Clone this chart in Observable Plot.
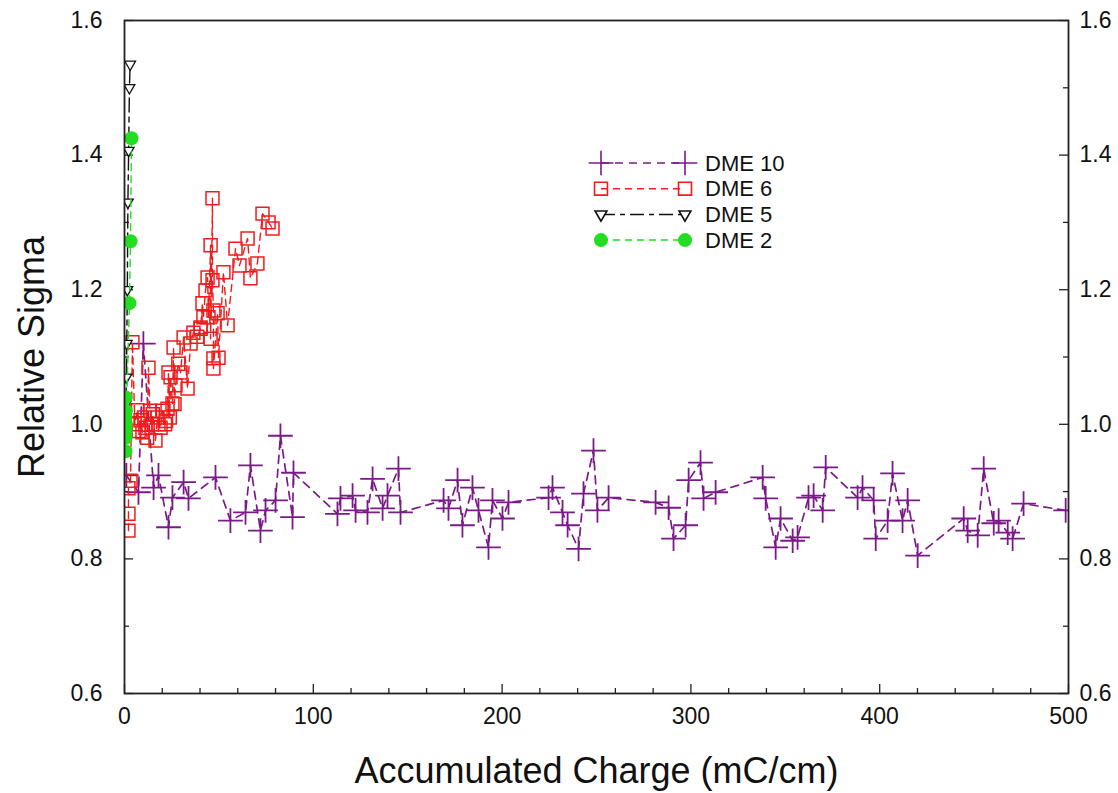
<!DOCTYPE html>
<html><head><meta charset="utf-8">
<script src="https://cdn.jsdelivr.net/npm/d3@7"></script>
<script src="https://cdn.jsdelivr.net/npm/@observablehq/plot@0.6"></script>
<style>
body{margin:0;background:#fff;}
#wrap{position:relative;width:1118px;height:793px;font-family:"Liberation Sans",Arial,sans-serif;}
#legend{position:absolute;left:585px;top:148px;}
</style></head><body><div id="wrap"></div>
<script>
// ---- data ----
const dme10X = [1, 7.4, 10, 15.4, 18, 23.3, 25.4, 31.3, 33.9, 48.2, 56.1, 64.1, 66.7, 72, 74.7, 80, 82.6, 89, 89.5, 112.8, 114.4, 120.8, 122.4, 128.7, 131.4, 136.7, 139.3, 145.1, 146.2, 169, 171.6, 176.4, 179, 184.3, 187.5, 192.8, 194.9, 200.2, 203.4, 224.6, 226.7, 232, 234.7, 240.5, 243.1, 248.4, 250.5, 256.4, 281.3, 288.2, 290.8, 297.2, 298.8, 305.1, 306.7, 313.1, 338, 339.6, 344.9, 347.5, 353.9, 356.5, 362.3, 365, 369.8, 371.4, 388.3, 390.9, 396.8, 397.9, 404.2, 406.8, 412.1, 414.8, 420.1, 444.5, 446.6, 451.9, 455.1, 460.4, 463, 467.8, 470.4, 476.2, 498.5];
const dme10Y = [0.924, 0.899, 1.12, 0.906, 0.924, 0.847, 0.891, 0.914, 0.890, 0.921, 0.857, 0.869, 0.939, 0.842, 0.872, 0.887, 0.983, 0.862, 0.928, 0.867, 0.890, 0.894, 0.872, 0.869, 0.919, 0.875, 0.894, 0.934, 0.869, 0.887, 0.875, 0.917, 0.850, 0.906, 0.872, 0.817, 0.887, 0.860, 0.884, 0.891, 0.906, 0.869, 0.850, 0.815, 0.897, 0.961, 0.872, 0.891, 0.884, 0.876, 0.830, 0.850, 0.917, 0.943, 0.890, 0.899, 0.921, 0.890, 0.817, 0.860, 0.827, 0.832, 0.891, 0.894, 0.872, 0.936, 0.891, 0.906, 0.887, 0.830, 0.857, 0.927, 0.857, 0.887, 0.805, 0.860, 0.842, 0.835, 0.934, 0.853, 0.857, 0.839, 0.830, 0.882, 0.872];

const dme6X = [2.1, 2.1, 2.1, 3.2, 4.2, 5.5, 6.9, 7.5, 8.5, 9.5, 10.5, 11.1, 12, 12.7, 13.5, 14.5, 15, 16.4, 17.5, 18, 19.1, 20, 21.5, 22, 22.8, 23.3, 24, 24.4, 25.4, 26, 26.5, 27, 28.5, 29.7, 31.3, 33.4, 35, 36.5, 38.5, 40.3, 40.3, 41.3, 41.8, 42.9, 44, 44.5, 45.6, 45.6, 46.6, 46.6, 47.1, 47.1, 47.1, 49.3, 49.8, 52.4, 54.6, 58.8, 60.9, 65.2, 66.7, 70.4, 73.1, 76.3, 78.4];
const dme6Y = [0.842, 0.867, 0.905, 0.916, 1.122, 1.000, 1.021, 0.990, 1.006, 0.988, 1.010, 0.995, 0.980, 1.084, 1.020, 1.000, 1.015, 0.976, 1.010, 1.000, 0.995, 1.020, 1.000, 1.005, 1.023, 1.077, 1.010, 1.070, 1.031, 1.114, 1.030, 1.058, 1.090, 1.077, 1.129, 1.053, 1.120, 1.136, 1.130, 1.142, 1.144, 1.180, 1.159, 1.199, 1.218, 1.159, 1.266, 1.127, 1.336, 1.214, 1.169, 1.098, 1.083, 1.165, 1.099, 1.226, 1.147, 1.261, 1.236, 1.276, 1.217, 1.239, 1.313, 1.300, 1.291];

const dme5X = [0.4, 0.7, 1.0, 1.2, 1.5, 1.8, 2.2, 2.6, 3.0];
const dme5Y = [0.99, 1.03, 1.07, 1.12, 1.20, 1.33, 1.407, 1.50, 1.535];

const dme2X = [0.5, 0.6, 0.7, 0.8, 0.6, 0.5, 0.7, 2.6, 3.2, 3.7];
const dme2Y = [0.96, 0.98, 1.00, 1.02, 1.04, 1.01, 0.99, 1.18, 1.272, 1.425];

const xTickVals = [0, 100, 200, 300, 400, 500];
const xMinorVals = [20, 40, 60, 80, 120, 140, 160, 180, 220, 240, 260, 280, 320, 340, 360, 380, 420, 440, 460, 480];
const yTickVals = [0.6, 0.8, 1.0, 1.2, 1.4, 1.6];
const yMinorVals = [0.7, 0.9, 1.1, 1.3, 1.5];

const seriesNames = ["DME 10", "DME 6", "DME 5", "DME 2"];
const seriesColors = ["#7a1a88", "#f01c1c", "#111111", "#22dd22"];

// ---- build tables ----
const toRows = (xs, ys) => xs.map((x, i) => ({x, y: ys[i]}));
const d10 = toRows(dme10X, dme10Y);
const d6 = toRows(dme6X, dme6Y);
const d5 = toRows(dme5X, dme5Y);
const d2 = toRows(dme2X, dme2Y);

const W = 1118, H = 793, mL = 124, mR = 50, mT = 20, mB = 100;
const pw = W - mL - mR, ph = H - mT - mB;
const fmtY = d => d.toFixed(1);

const chart = Plot.plot({
  width: W, height: H,
  marginLeft: mL, marginRight: mR, marginTop: mT, marginBottom: mB,
  style: {fontFamily: "'Liberation Sans', Arial, sans-serif", fontSize: "23px", background: "white", color: "#111"},
  x: {domain: [0, 500]},
  y: {domain: [0.6, 1.6]},
  marks: [
    Plot.axisX(xTickVals, {tickSize: 0, tickPadding: 14, tickFormat: d => String(d), label: null, fontSize: 23}),
    Plot.axisY(yTickVals, {anchor: "left", tickSize: 0, tickPadding: 22, tickFormat: fmtY, label: null, fontSize: 23}),
    Plot.axisY(yTickVals, {anchor: "right", tickSize: 0, tickPadding: 11, tickFormat: fmtY, label: null, fontSize: 23}),
    // inward ticks
    Plot.ruleX(xTickVals, {insetTop: ph - 9, stroke: "#222", strokeWidth: 1.3}),
    Plot.ruleX(xMinorVals, {insetTop: ph - 5, stroke: "#222", strokeWidth: 1.3}),
    Plot.ruleY(yTickVals, {insetRight: pw - 9, stroke: "#222", strokeWidth: 1.3}),
    Plot.ruleY(yMinorVals, {insetRight: pw - 5, stroke: "#222", strokeWidth: 1.3}),
    Plot.ruleY(yTickVals, {insetLeft: pw - 9, stroke: "#222", strokeWidth: 1.3}),
    Plot.ruleY(yMinorVals, {insetLeft: pw - 5, stroke: "#222", strokeWidth: 1.3}),
    // DME 10
    Plot.line(d10, {x: "x", y: "y", stroke: seriesColors[0], strokeWidth: 1.7, strokeDasharray: "8,6", clip: true}),
    Plot.dot(d10, {x: "x", y: "y", symbol: "plus", r: 8, stroke: seriesColors[0], strokeWidth: 1.8, clip: true}),
    // DME 6
    Plot.line(d6, {x: "x", y: "y", stroke: seriesColors[1], strokeWidth: 1.4, strokeDasharray: "7,5", clip: true}),
    Plot.dot(d6, {x: "x", y: "y", symbol: "square", r: 7.3, fill: "none", stroke: seriesColors[1], strokeWidth: 1.5, clip: true}),
    // DME 5
    Plot.line(d5, {x: "x", y: "y", stroke: seriesColors[2], strokeWidth: 1.4, strokeDasharray: "14,5,5,5", clip: true}),
    Plot.dot(d5, {x: "x", y: "y", symbol: "triangle", r: 4, rotate: 180, fill: "white", stroke: seriesColors[2], strokeWidth: 1.3, clip: true}),
    // DME 2
    Plot.line(d2, {x: "x", y: "y", stroke: seriesColors[3], strokeWidth: 1.4, strokeDasharray: "7,5", clip: true}),
    Plot.dot(d2, {x: "x", y: "y", r: 7, fill: seriesColors[3], stroke: "none", clip: true}),
    Plot.frame({stroke: "#222", strokeWidth: 1.8}),
    // axis titles
    Plot.text(["Accumulated Charge (mC/cm)"], {text: d => d, frameAnchor: "bottom", dy: 89, fontSize: 36, fill: "#111"}),
    Plot.text(["Relative Sigma"], {text: d => d, frameAnchor: "left", textAnchor: "middle", dx: -92, rotate: -90, fontSize: 36, fill: "#111"})
  ]
});
const wrap = document.getElementById("wrap");
wrap.appendChild(chart);

// ---- legend overlay ----
const legendSymbols = [d3.symbolPlus, d3.symbolSquare, d3.symbolTriangle, d3.symbolCircle];
const legendSizes = [Math.PI * 8 * 8, Math.PI * 7.3 * 7.3, Math.PI * 4.4 * 4.4, Math.PI * 7 * 7];
const legendDash = ["8,6", "7,5", "14,5,5,5", "7,5"];
const leg = d3.select(wrap).append("svg").attr("id", "legend").attr("width", 240).attr("height", 110)
  .style("font-family", "'Liberation Sans', Arial, sans-serif");
seriesNames.forEach((name, i) => {
  const cy = 15 + i * 25.7;
  const g = leg.append("g");
  const x0 = 16, x1 = 100;
  g.append("line").attr("x1", x0).attr("x2", x1).attr("y1", cy).attr("y2", cy)
    .attr("stroke", seriesColors[i]).attr("stroke-width", 1.5).attr("stroke-dasharray", legendDash[i]);
  [x0, x1].forEach(sx => {
    const p = g.append("path").attr("d", d3.symbol(legendSymbols[i], legendSizes[i])())
      .attr("transform", `translate(${sx},${cy})` + (i === 2 ? " rotate(180)" : ""));
    if (i === 3) p.attr("fill", seriesColors[i]);
    else p.attr("fill", i === 2 ? "white" : "none").attr("stroke", seriesColors[i]).attr("stroke-width", 1.6);
  });
  g.append("text").attr("x", 120).attr("y", cy).attr("dy", "0.35em").attr("font-size", 22).attr("fill", "#111").text(name);
});
</script></body></html>
